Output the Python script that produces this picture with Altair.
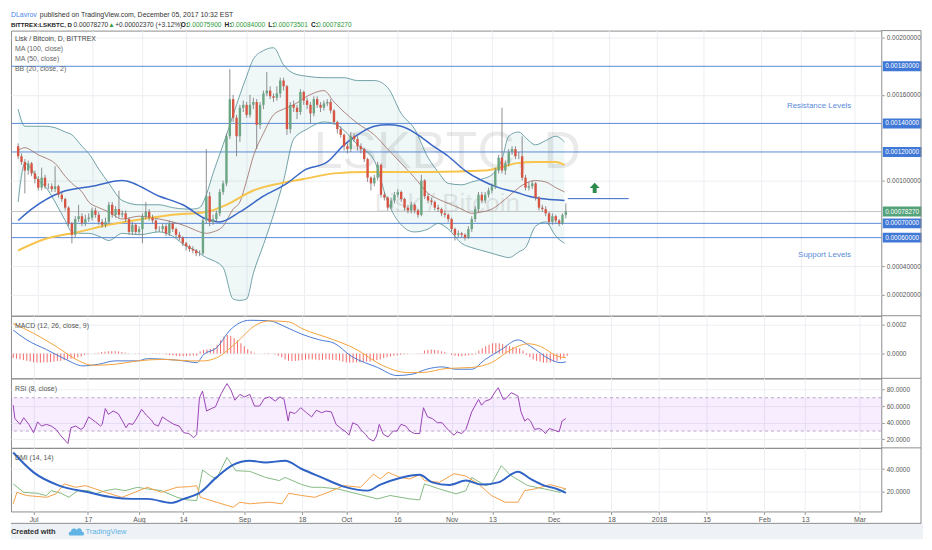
import altair as alt
import pandas as pd

UNIT = 1e-5                 # price values below are in units of 0.00001 BTC
FIRST_CANDLE = "2017-06-25"
DAY0 = "2017-07-01"         # day offsets of indicator lists are counted from here

# ---------------- daily candles (LSK/BTC) ----------------
first_open = 124
closes = [117,113,107,112,105,101,95,102,96,96,
          94,96,90,87,81,70,62,73,75,70,
          73,74,79,76,71,69,71,83,76,80,
          76,77,73,64,69,64,66,75,78,74,
          72,66,66,68,63,70,66,62,60,56,
          54,52,51,49,49,72,89,71,73,77,
          92,98,131,157,144,131,151,153,146,153,
          155,139,153,161,163,159,158,161,170,166,
          136,153,151,148,162,156,153,147,157,153,
          151,154,155,149,141,136,132,124,122,131,
          129,124,122,115,102,98,102,111,90,88,
          81,86,90,92,87,81,79,83,79,76,
          100,89,86,85,81,80,77,76,73,66,
          62,63,62,60,66,73,80,90,86,90,
          93,96,107,116,107,112,120,122,117,117,
          102,95,96,98,88,81,80,77,71,75,
          72,70,75.9,78.27]
highs = [126,119,115,114,113,107,103,109,104,98,
         98,110,97,92,88,82,71,75,83,77,
         76,77,81,81,78,73,74,85,85,82,
         93,79,79,74,71,70,68,77,85,80,
         76,73,68,70,70,72,71,67,64,61,
         57,55,54,52,51,74,122,92,76,79,
         94,100,133,178,160,146,153,156,155,160,
         158,157,155,163,176,166,161,166,172,172,
         167,155,156,153,164,163,158,155,159,159,
         155,156,157,157,150,142,138,133,126,134,
         133,131,126,123,116,103,104,113,112,92,
         89,88,92,94,93,88,83,85,84,80,
         104,101,91,88,86,83,81,79,77,74,
         67,65,64,63,68,75,82,92,92,92,
         95,98,109,118,151,114,122,124,124,120,
         131,104,99,100,99,89,83,82,78,77,
         76,73,77,84]
lows = [115,111,91,104,103,98,93,93,94,94,
        92,92,88,85,79,68,56,60,71,68,
        68,71,72,74,69,67,67,70,74,74,
        74,74,71,62,62,62,62,56,73,72,
        70,64,64,64,61,61,64,60,58,54,
        51,50,49,47,47,48,70,68,69,71,
        75,90,96,129,141,117,127,148,144,144,
        150,122,136,150,159,157,155,156,158,163,
        132,133,148,143,146,153,150,140,145,151,
        148,149,152,147,139,133,130,121,119,120,
        127,121,119,113,99,93,96,100,88,86,
        79,80,84,88,85,79,77,77,77,74,
        75,87,84,83,79,78,75,74,71,64,
        58,60,60,58,59,64,71,78,84,84,
        88,91,94,105,105,104,110,118,115,115,
        100,93,93,94,86,79,78,75,69,69,
        70,68,69,73.5]

# MACD histogram, one value per candle
hist = [-3,-3.5,-4,-4.5,-5,-5.5,-6,-6.2,-6.2,-6,
        -6,-5.8,-5.5,-5,-5,-4.5,-4,-3.5,-3,-2.5,
        -2,-1,-0.5,0,0.3,0.5,1,1.3,1.5,1.6,
        1.6,1.4,1,0.6,0.2,0,-0.2,-0.3,0,0.2,
        0,-0.2,-0.3,-0.2,-0.2,-0.6,-1,-1.3,-1.6,-1.8,
        -1.8,-1.6,-1.5,-1.3,-1.5,1.5,2.5,2.8,3.2,3.8,
        6,9,11.5,12.7,12,10.5,9,7,5,3,
        1.6,0.5,0,0,0.2,0.3,0,-0.5,-1.5,-2.5,
        -4,-5,-5.2,-5,-4.8,-4.5,-4.2,-4,-4,-4.2,
        -4.5,-4.3,-4,-4.2,-4.3,-4.5,-4.8,-5.5,-6,-6.2,
        -6.2,-6,-6,-5.8,-5.5,-5.5,-5,-4.5,-4,-3,
        -2.5,-2,-1.5,-1.2,-0.8,-0.5,-0.2,0,0,0.2,
        0.3,2,2.5,2.7,2.5,2.2,1.5,1,0,-1,
        -1.5,-1.8,-1.8,-1.5,-1.2,-0.8,-0.5,2,3.5,5,
        6,7,7.1,7,6.5,5.5,5,4.5,4,3.5,
        2,-1,-2.5,-4,-5,-5.5,-6.2,-6.2,-6,-5.5,
        -5,-4,-2.5,-1.5]

# ---------------- overlays ----------------
bb_days = [-6,-4,-2,0,2,5,8,10,13,15,18,21,25,30,36,40,44,46,48,50,
           52,55,58,60,62,64,67,70,73,76,80,85,88,91,95,100,104,108,112,116,
           119,122,126,129,132,135,138,140,143,145,148,151,154,156.6]
bb_upper = [150,138,138,138,138,137,134,132,124,119,108,98,86,83,83,81,80,80,81,90,
            105,125,146,160,173,185,191,193,181,175,173,172,172,172,170,170,165,147,136,116,
            106,98,97,99,101,104,115,131,134,130,125,128,131,127]
bb_mid = [121,123,121,118,116,112,103,98,92,85,81,78,73,75,73,71,68,66,64,63,
          64,68,80,85,100,117,133,146,150,153,159,163,155,148,140,132,122,112,102,91,
          87,84,80,77,78,80,85,89,95,98,100,99,95,92]
bb_lower = [85,112,108,100,96,85,72,64,63,63,61,58,63,62,64,61,54,52,49,46,
            44,39,17,16,17,35,55,76,100,129,136,141,140,135,125,114,85,69,64,66,
            70,66,56,53,51,49,47,46,50,53,68,71,61,56]

ma50_days = [-6,-2,7,16,25,36,43,50,54,60,67,74,79,86,91,95,100,104,108,113,
             117,122,127,132,137,142,146,151,156.6]
ma50_vals = [72,80,92,96,100,89,83,73,71,78,89,98,107,113,125,132,138,139,138,132,
             125,117,107,100,95,92,89,87,86]
ma100_days = [-6,2,12,21,31,40,50,56,64,72,79,88,98,117,133,139,142,148,154,156.6]
ma100_vals = [51,59,64,69,73,76,78,83,93,98,101,105,106,106,107,110,112,113,113,111]

# ---------------- oscillators ----------------
macd_days = [-6,-2,3.8,9.5,14.5,19.1,24.0,30.6,33.5,39.3,44.2,48.0,50.0,53.8,57.8,63.6,69.4,74.0,
             78.9,84.2,88.4,93.4,101.2,106.9,111.6,115.6,120.2,124.3,128.9,132.9,137.6,142.5,
             146.2,152.0,154.9,156.6]
macd_vals = [16,9.3,2.7,-4,-8.4,-7.3,-5,-5,-3.5,-4,-5,-6.2,-0.7,3.8,16,22.7,22.3,18.3,
             13.2,9.3,7.1,-1.7,-9.5,-15,-14,-10.7,-9.1,-10.7,-10.7,-4,2.7,9.3,4.9,-4,-6.2,-5.7]
sig_days = [-6,0,6.6,13.3,17.3,24.0,30.6,38.4,46.2,50.0,53.8,59.5,65.3,69.4,75.1,78.9,88.4,94.2,
            102.9,109.8,114.5,121.4,128.9,134.7,140.5,145.4,149.1,154.0,156.6]
sig_vals = [20.5,13.8,4.9,-5,-8,-7.3,-5,-4,-5,-5,-2.9,7.1,19.3,22.3,21.6,17.1,9.3,3.8,
            -8.4,-12.9,-12.9,-10.2,-9.5,-6.2,2.7,6.7,4.9,-1.7,-2.9]

rsi_days = [-6,-5.5,-4,-2.9,-1.4,0,1.2,2.3,3.8,5.2,6.6,8.1,10.1,11.0,12.4,13.9,14.7,16.2,18.2,19.7,
            20.2,21.1,22.0,23.4,24.9,26.3,27.2,28.0,29.2,30.6,31.8,33.2,34.7,35.5,36.7,37.9,39.3,41.3,42.8,44.2,
            45.7,47.1,48.0,48.8,49.7,50.9,52.3,53.5,55.2,56.9,58.1,59.2,60.7,62.1,63.6,65.0,66.5,67.9,69.4,71.1,
            72.5,73.7,74.9,75.4,76.9,78.6,80.3,81.8,83.2,84.7,86.1,87.6,89.0,90.5,91.9,92.8,93.9,95.4,96.2,97.7,
            98.6,100.0,100.9,101.7,102.9,104.3,105.8,106.9,108.1,109.5,110.7,112.1,113.6,114.7,115.9,117.3,118.8,120.2,121.4,122.8,
            123.7,124.6,126.0,127.2,128.9,130.9,131.8,132.9,134.4,135.8,136.7,138.2,139.0,140.5,141.6,142.5,143.4,144.5,145.4,146.2,
            147.4,148.8,149.7,150.6,151.7,153.2,154.6,155.5,156.6]
rsi_vals = [61,45,38,46,38,28,41,36,38,36,32,24,15,34,36,32,34,47,41,36,
            38,57,50,54,51,41,34,39,38,47,56,49,43,38,36,47,43,38,36,28,
            27,22,26,70,78,54,57,59,75,87,79,67,74,71,74,60,60,69,71,66,
            71,68,42,53,51,58,52,47,55,52,54,53,38,33,29,25,40,37,32,26,
            21,18,24,38,26,23,30,30,38,36,30,27,27,58,47,45,40,40,34,28,
            25,29,27,32,53,68,61,66,68,77,82,68,69,76,74,72,53,42,45,42,
            32,33,31,27,33,31,29,42,45]

adx_days = [-6,0,7.5,16.2,23.1,28.9,33.5,40.5,44.2,49.1,53.8,58.7,63.6,68.2,74.0,78.9,84.7,91.3,98.3,102.0,
            107.8,113.6,117.3,122.3,127.2,131.8,136.7,142.5,146.2,150.3,154.0,156.6]
adx_vals = [54.8,37,25.1,19.1,14.6,13.2,13.2,9.6,13.2,19.1,32.5,43.8,47.4,45.9,47.4,40,32.5,24.2,20.6,26,
            32,34.9,28,25.7,29.6,26,28,37.6,31.1,25.1,22.1,18.6]
pdi_days = [-6,-2.9,0.9,3.8,5.2,8.1,10.4,13.0,16.2,18.2,21.1,24.0,26.9,30.6,33.5,37.6,42.2,45.1,48.0,49.7,
            52.0,53.8,56.9,59.5,63.6,68.2,72.3,74.0,78.9,81.8,84.7,89.6,93.4,101.2,104.9,110.7,113.6,115.0,119.4,124.3,
            127.2,128.9,132.9,134.7,137.6,140.5,145.4,150.3,154.9,156.6]
pdi_vals = [26.6,19.1,18.2,16.2,20.6,18.2,14.6,20.6,20.6,17.7,20.6,22.1,20.6,23.6,22.1,20.6,14.6,12.3,11.7,39.1,
            34,31.1,50.4,38.5,37.9,32.5,29.6,32.5,26,23.6,23.6,22.1,19.1,13.2,16.2,13.2,12.3,26.6,22.1,17.7,
            20.6,32.5,25.1,26.6,43,34,25.1,22.1,19.1,22.1]
mdi_days = [-6,-4.9,-2.0,3.8,6.6,9.0,12.4,15.3,18.2,21.1,26.0,29.8,33.5,37.6,42.2,46.2,48.0,49.1,53.8,58.7,
            60.7,63.6,69.4,73.1,75.1,78.9,82.7,86.7,91.3,96.2,100.0,102.0,104.3,107.8,110.7,113.6,115.0,119.4,123.7,127.2,
            130.9,134.7,138.7,142.5,144.5,147.4,152.0,154.9,156.6]
mdi_vals = [8.8,19.1,16.2,14.6,17.7,26.6,23.6,25.1,22.1,19.1,14.6,19.1,23.6,19.1,23.6,24.2,25.1,14.6,10.2,5.7,
            10.2,8.8,10.2,8.8,18.2,16.2,14.6,19.1,25.1,23.6,35.5,31.1,37,32.5,31.1,34.9,29.6,28,35.8,33.7,
            26.6,16.2,10.2,10.2,20.6,22.1,26,23.6,22.1]

# ---------------- drawings ----------------
levels = [0.0018, 0.0014, 0.0012, 0.0007, 0.0006]
last_price = 0.00078270
ma50_ray_price = 0.000873
ma50_ray_start, ma50_ray_end = "2017-12-05T14:00:00", "2017-12-23T17:00:00"
arrow_date, arrow_price = "2017-12-13T14:00:00", 0.000948
watermark_big = ("LSKBTC, D", "2017-10-30T17:00:00", 0.00120)
watermark_small = ("Lisk / Bitcoin", "2017-10-30T17:00:00", 0.000838)
resistance_note = ("Resistance Levels", "2018-02-18T09:00:00", 0.00152)
support_note = ("Support Levels", "2018-02-20T00:00:00", 0.00048)
x_tick_dates = [(2017,7,1),(2017,7,17),(2017,8,1),(2017,8,14),(2017,9,1),(2017,9,18),(2017,10,1),
                (2017,10,16),(2017,11,1),(2017,11,13),(2017,12,1),(2017,12,18),(2018,1,1),(2018,1,15),
                (2018,2,1),(2018,2,13),(2018,3,1)]
price_ticks = [0.0002, 0.0004, 0.0010, 0.0016, 0.0020]

# ---------------- layout / style ----------------
W = 876
H_MAIN, H_MACD, H_RSI, H_DMI = 287, 63, 70, 64
RIGHT = 40
FONT = "Liberation Sans"
UP, DOWN, WICK = "#6ba583", "#d75442", "#737375"
LEVEL_BLUE = "#5a8ad8"

def offs(days):
    return pd.Timestamp(DAY0) + pd.to_timedelta(days, unit="D")

dates = pd.date_range(FIRST_CANDLE, periods=len(closes), freq="D")
opens = [first_open] + closes[:-1]
candles = pd.DataFrame({
    "date": dates,
    "open": [v * UNIT for v in opens],
    "close": [v * UNIT for v in closes],
    "high": [v * UNIT for v in highs],
    "low": [v * UNIT for v in lows],
    "col": [UP if c >= o else DOWN for o, c in zip(opens, closes)],
})
hist_df = pd.DataFrame({"date": pd.date_range(FIRST_CANDLE, periods=len(hist), freq="D"),
                        "v": [v * UNIT for v in hist]})
bb = pd.DataFrame({"date": offs(bb_days), "upper": [v * UNIT for v in bb_upper],
                   "mid": [v * UNIT for v in bb_mid], "lower": [v * UNIT for v in bb_lower]})
ma50 = pd.DataFrame({"date": offs(ma50_days), "v": [v * UNIT for v in ma50_vals]})
ma100 = pd.DataFrame({"date": offs(ma100_days), "v": [v * UNIT for v in ma100_vals]})
macd = pd.DataFrame({"date": offs(macd_days), "v": [v * UNIT for v in macd_vals]})
sig = pd.DataFrame({"date": offs(sig_days), "v": [v * UNIT for v in sig_vals]})
rsi = pd.DataFrame({"date": offs(rsi_days), "v": rsi_vals})
adx = pd.DataFrame({"date": offs(adx_days), "v": adx_vals})
pdi = pd.DataFrame({"date": offs(pdi_days), "v": pdi_vals})
mdi = pd.DataFrame({"date": offs(mdi_days), "v": mdi_vals})

X_DOMAIN = [alt.DateTime(year=2017, month=6, date=24, hours=8, minutes=24),
            alt.DateTime(year=2018, month=3, date=7, hours=9, minutes=36)]
LABEL_EXPR = ("date(datum.value) == 1 ? (month(datum.value) == 0 ? timeFormat(datum.value, '%Y') "
              ": timeFormat(datum.value, '%b')) : timeFormat(datum.value, '%-d')")

def x_axis(show):
    return alt.Axis(values=[alt.DateTime(year=y, month=m, date=d) for y, m, d in x_tick_dates],
                    grid=True, gridColor="#eceef2", labels=show, ticks=show, domain=False, title=None,
                    labelExpr=LABEL_EXPR, tickSize=3, tickColor="#999", labelFontSize=7,
                    labelColor="#555", labelFont=FONT, labelPadding=1, labelOverlap=False)

def X(field, show=False):
    return alt.X(field, type="temporal", scale=alt.Scale(domain=X_DOMAIN), axis=x_axis(show))

def y_axis(values, fmt):
    return alt.Axis(orient="right", values=values, format=fmt, grid=True, gridColor="#eceef2",
                    domain=False, title=None, tickSize=3, tickColor="#999", labelFontSize=6.5,
                    labelColor="#555", labelFont=FONT, labelPadding=2)

P_SCALE = alt.Scale(domain=[0.0000530, 0.00205], nice=False, zero=False)
P_AXIS = y_axis(price_ticks, ".8f")
M_SCALE = alt.Scale(domain=[-0.000169, 0.000258], nice=False, zero=False)
M_AXIS = y_axis([0, 0.0002], ".4f")
R_SCALE = alt.Scale(domain=[9.8, 93.3], nice=False, zero=False)
R_AXIS = y_axis([20, 40, 60, 80], ".4f")
D_SCALE = alt.Scale(domain=[1.9, 59], nice=False, zero=False)
D_AXIS = y_axis([20, 40], ".4f")

def YP(field):
    return alt.Y(field, type="quantitative", scale=P_SCALE, axis=P_AXIS)

def one():
    return alt.Chart(pd.DataFrame({"k": [0]}))

def txt(s, x, y, color="#555", size=7, weight="normal", align="left"):
    return one().mark_text(text=s, color=color, fontSize=size, fontWeight=weight, align=align,
                           baseline="middle", font=FONT).encode(x=alt.value(x), y=alt.value(y))

def hrule(x1, x2, y, color="#8d8d8d"):
    return one().mark_rule(color=color, strokeWidth=1).encode(
        x=alt.value(x1), x2=alt.value(x2), y=alt.value(y))

def vrule(x, y1, y2, color="#8d8d8d"):
    return one().mark_rule(color=color, strokeWidth=1).encode(
        x=alt.value(x), y=alt.value(y1), y2=alt.value(y2))

def frame(h, extra=0):
    return [hrule(W, W + RIGHT, 0), vrule(W + RIGHT, 0, h + extra)]

# ---------------- main price panel ----------------
lev_df = pd.DataFrame({"level": levels})
last_df = pd.DataFrame({"level": [last_price]})
wm_df = pd.DataFrame({"t": [watermark_big[0], watermark_small[0]],
                      "date": pd.to_datetime([watermark_big[1], watermark_small[1]]),
                      "p": [watermark_big[2], watermark_small[2]]})
notes_df = pd.DataFrame({"t": [resistance_note[0], support_note[0]],
                         "date": pd.to_datetime([resistance_note[1], support_note[1]]),
                         "p": [resistance_note[2], support_note[2]]})
ray_df = pd.DataFrame({"d1": pd.to_datetime([ma50_ray_start]), "d2": pd.to_datetime([ma50_ray_end]),
                       "p": [ma50_ray_price]})
arrow_df = pd.DataFrame({"date": pd.to_datetime([arrow_date]), "p": [arrow_price]})

bb_fill = alt.Chart(bb).mark_area(color="#198787", opacity=0.07).encode(
    x=X("date"), y=YP("lower"), y2=alt.Y2("upper"))
wm_big = alt.Chart(wm_df.iloc[[0]]).mark_text(fontSize=52, color="#000", opacity=0.08, font=FONT,
                                              align="center", baseline="middle").encode(
    x=X("date"), y=YP("p"), text="t:N")
wm_small = alt.Chart(wm_df.iloc[[1]]).mark_text(fontSize=26, color="#000", opacity=0.08, font=FONT,
                                                align="center", baseline="middle").encode(
    x=X("date"), y=YP("p"), text="t:N")
lev_rules = alt.Chart(lev_df).mark_rule(color=LEVEL_BLUE, strokeWidth=1).encode(y=YP("level"))
last_rule = alt.Chart(last_df).mark_rule(color="#c4c4c4", strokeWidth=1).encode(y=YP("level"))
bb_up_line = alt.Chart(bb).mark_line(color="#4f8c92", strokeWidth=0.8, interpolate="monotone").encode(
    x=X("date"), y=YP("upper"))
bb_lo_line = alt.Chart(bb).mark_line(color="#4f8c92", strokeWidth=0.8, interpolate="monotone").encode(
    x=X("date"), y=YP("lower"))
bb_mid_line = alt.Chart(bb).mark_line(color="#9a6a62", strokeWidth=0.8, interpolate="monotone").encode(
    x=X("date"), y=YP("mid"))
ma100_line = alt.Chart(ma100).mark_line(color="#f7c44c", strokeWidth=2, interpolate="monotone").encode(
    x=X("date"), y=YP("v"))
ma50_line = alt.Chart(ma50).mark_line(color="#3a68c6", strokeWidth=1.5, interpolate="monotone").encode(
    x=X("date"), y=YP("v"))
ray = alt.Chart(ray_df).mark_rule(color="#3a68c6", strokeWidth=1).encode(
    x=X("d1"), x2=alt.X2("d2"), y=YP("p"))
wicks = alt.Chart(candles).mark_rule(color=WICK, strokeWidth=0.8).encode(
    x=X("date"), y=YP("low"), y2=alt.Y2("high"))
bodies = alt.Chart(candles).mark_bar(size=2.4).encode(
    x=X("date"), y=YP("open"), y2=alt.Y2("close"), color=alt.Color("col:N", scale=None))
arrow = alt.Chart(arrow_df).mark_point(
    shape="M0,-1L0.95,0L0.38,0L0.38,0.95L-0.38,0.95L-0.38,0L-0.95,0Z",
    filled=True, color="#2f8a4e", opacity=1, size=110).encode(x=X("date"), y=YP("p"))
notes = alt.Chart(notes_df).mark_text(color=LEVEL_BLUE, fontSize=8, font=FONT, align="center",
                                      baseline="middle").encode(x=X("date"), y=YP("p"), text="t:N")
lev_tags = alt.Chart(lev_df).mark_tick(color="#3f78d6", thickness=10, size=39, opacity=1).encode(
    x=alt.value(W + 21), y=YP("level"))
lev_tag_txt = alt.Chart(lev_df).mark_text(color="white", fontSize=6.5, font=FONT, align="center",
                                          baseline="middle").encode(
    x=alt.value(W + 21), y=YP("level"), text=alt.Text("level:Q", format=".8f"))
last_tag = alt.Chart(last_df).mark_tick(color="#53a27a", thickness=10, size=39, opacity=1).encode(
    x=alt.value(W + 21), y=YP("level"))
last_tag_txt = alt.Chart(last_df).mark_text(color="white", fontSize=6.5, font=FONT, align="center",
                                            baseline="middle").encode(
    x=alt.value(W + 21), y=YP("level"), text=alt.Text("level:Q", format=".8f"))

GREEN_TXT = "#2f9a3c"
header = [
    txt("DLavrov", 0, -16, color="#4a86e8", size=7),
    txt("published on TradingView.com, December 05, 2017 10:32 EST", 29, -16, color="#333", size=7),
    txt("BITTREX:LSKBTC, D", 0, -6, color="#222", size=6.2, weight="bold"),
    txt("0.00078270", 63, -6, color="#333", size=6.6),
    txt("\u25B2", 98, -6, color=GREEN_TXT, size=6.6),
    txt("+0.00002370 (+3.12%)", 105, -6, color="#333", size=6.6),
    txt("O:", 171, -6, color="#222", size=6.6, weight="bold"),
    txt("0.00075900", 177, -6, color=GREEN_TXT, size=6.6),
    txt("H:", 215, -6, color="#222", size=6.6, weight="bold"),
    txt("0.00084000", 221, -6, color=GREEN_TXT, size=6.6),
    txt("L:", 259, -6, color="#222", size=6.6, weight="bold"),
    txt("0.00073501", 264, -6, color=GREEN_TXT, size=6.6),
    txt("C:", 302, -6, color="#222", size=6.6, weight="bold"),
    txt("0.00078270", 308, -6, color=GREEN_TXT, size=6.6),
]
main_labels = [
    txt("Lisk / Bitcoin, D, BITTREX", 4, 8, color="#444", size=7),
    txt("MA (100, close)", 4, 19, color="#666", size=7),
    txt("MA (50, close)", 4, 28.5, color="#666", size=7),
    txt("BB (20, close, 2)", 4, 38.5, color="#666", size=7),
]

main = alt.layer(
    bb_fill, wm_big, wm_small, lev_rules, last_rule, bb_up_line, bb_lo_line, bb_mid_line,
    ma100_line, ma50_line, ray, wicks, bodies, arrow, notes,
    lev_tags, lev_tag_txt, last_tag, last_tag_txt,
    *main_labels, *header, *frame(H_MAIN),
).properties(width=W, height=H_MAIN)

# ---------------- MACD panel ----------------
macd_hist = alt.Chart(hist_df).mark_rule(color="#f26a6a", strokeWidth=1).encode(
    x=X("date"), y=alt.Y("v:Q", scale=M_SCALE, axis=M_AXIS), y2=alt.Y2Datum(0))
macd_line = alt.Chart(macd).mark_line(color="#4a7ad3", strokeWidth=1, interpolate="monotone").encode(
    x=X("date"), y=alt.Y("v:Q", scale=M_SCALE, axis=M_AXIS))
sig_line = alt.Chart(sig).mark_line(color="#f2a23c", strokeWidth=1, interpolate="monotone").encode(
    x=X("date"), y=alt.Y("v:Q", scale=M_SCALE, axis=M_AXIS))
macd_panel = alt.layer(
    macd_hist, macd_line, sig_line,
    txt("MACD (12, 26, close, 9)", 4, 10, color="#555", size=7),
    *frame(H_MACD),
).properties(width=W, height=H_MACD)

# ---------------- RSI panel ----------------
rsi_band = one().mark_rect(color="#9915ff", opacity=0.08).encode(
    y=alt.YDatum(70, type="quantitative", scale=R_SCALE, axis=R_AXIS), y2=alt.Y2Datum(30))
rsi_hi = one().mark_rule(color="#b9a8c8", strokeDash=[3, 3], strokeWidth=1).encode(
    y=alt.YDatum(70, type="quantitative", scale=R_SCALE, axis=R_AXIS))
rsi_lo = one().mark_rule(color="#b9a8c8", strokeDash=[3, 3], strokeWidth=1).encode(
    y=alt.YDatum(30, type="quantitative", scale=R_SCALE, axis=R_AXIS))
rsi_line = alt.Chart(rsi).mark_line(color="#9a44b4", strokeWidth=1).encode(
    x=X("date"), y=alt.Y("v:Q", scale=R_SCALE, axis=R_AXIS))
rsi_panel = alt.layer(
    rsi_band, rsi_hi, rsi_lo, rsi_line,
    txt("RSI (8, close)", 4, 11, color="#555", size=7),
    *frame(H_RSI),
).properties(width=W, height=H_RSI)

# ---------------- DMI panel ----------------
pdi_line = alt.Chart(pdi).mark_line(color="#86b983", strokeWidth=1).encode(
    x=X("date", show=True), y=alt.Y("v:Q", scale=D_SCALE, axis=D_AXIS))
mdi_line = alt.Chart(mdi).mark_line(color="#f3a049", strokeWidth=1).encode(
    x=X("date", show=True), y=alt.Y("v:Q", scale=D_SCALE, axis=D_AXIS))
adx_line = alt.Chart(adx).mark_line(color="#2f63c6", strokeWidth=2, interpolate="monotone").encode(
    x=X("date", show=True), y=alt.Y("v:Q", scale=D_SCALE, axis=D_AXIS))
footer_band = one().mark_rect(color="#eef1f6").encode(
    x=alt.value(0), x2=alt.value(W + RIGHT + 2), y=alt.value(H_DMI + 12), y2=alt.value(H_DMI + 28))
logo = one().mark_point(
    shape="M-1,0.55C-1.45,0.55 -1.45,-0.15 -0.95,-0.15C-0.95,-0.7 -0.25,-0.8 0,-0.4"
          "C0.3,-0.95 1,-0.65 0.9,-0.1C1.4,-0.1 1.4,0.55 1,0.55Z",
    filled=True, color="#5fb4e4", opacity=1, size=140).encode(x=alt.value(66), y=alt.value(H_DMI + 21))
dmi_panel = alt.layer(
    footer_band, pdi_line, mdi_line, adx_line,
    txt("DMI (14, 14)", 4, 10, color="#555", size=7),
    *frame(H_DMI, 12),
    hrule(0, W + RIGHT, H_DMI + 12),
    txt("Created with", 0, H_DMI + 21, color="#333", size=7.5, weight="bold"),
    logo,
    txt("TradingView", 75, H_DMI + 21, color="#5fb4e4", size=7.5),
).properties(width=W, height=H_DMI)

chart = alt.vconcat(main, macd_panel, rsi_panel, dmi_panel, spacing=0, bounds="flush",
                    padding=0).configure(
    font=FONT, background="white").configure_view(stroke="#8d8d8d", strokeWidth=1)

chart.save("out.html", embed_options={"renderer": "svg", "actions": False})
